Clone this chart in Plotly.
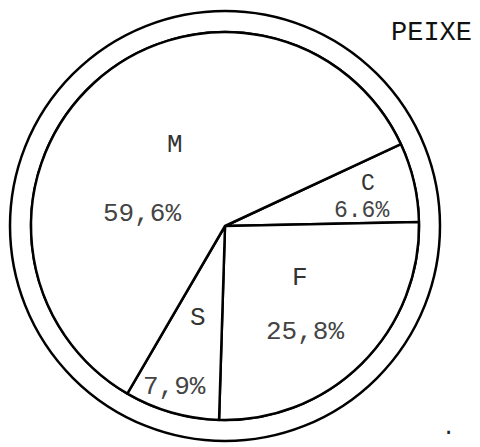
import plotly.graph_objects as go

# Data
categories = ["C", "F", "S", "M"]
values = [6.6, 25.8, 7.9, 59.6]
pct_labels = ["6.6%", "25,8%", "7,9%", "59,6%"]
title_text = "PEIXE"

W, H = 480, 447
OFF = 8                      # page body margin offset of the plot div
cx, cy = 225, 226            # pixel centre in the screenshot (from top)
r_out, r_in = 215, 194

def px(x):
    return (x - OFF) / W

def py(y):
    return 1 - (y - OFF) / H

def dom(r):
    return dict(x=[px(cx - r), px(cx + r)], y=[py(cy + r), py(cy - r)])

fig = go.Figure()
# outer double ring
fig.add_trace(go.Pie(
    values=[1], labels=["ring"], hole=r_in / r_out, sort=False,
    marker=dict(colors=["white"], line=dict(color="black", width=2.5)),
    textinfo="none", hoverinfo="skip", showlegend=False, domain=dom(r_out),
))
# inner pie
fig.add_trace(go.Pie(
    values=values, labels=categories, sort=False, direction="clockwise",
    rotation=65,
    marker=dict(colors=["white"] * len(values), line=dict(color="black", width=2.5)),
    textinfo="none", textposition="none", hoverinfo="skip", showlegend=False,
    domain=dom(r_in),
))

font_face = "Liberation Mono, Courier New, monospace"
letter_pos = {"C": (368, 184), "F": (300, 278), "S": (198, 318), "M": (175, 145)}
pct_pos = {"C": (361, 211), "F": (305, 332), "S": (174, 387), "M": (142, 214)}

def add_text(x, y, text, size, color):
    return dict(x=px(x), y=py(y), xref="paper", yref="paper", text=text,
                xanchor="center", yanchor="middle", showarrow=False,
                font=dict(family=font_face, size=size, color=color))

ann = []
for cat, pct in zip(categories, pct_labels):
    s = 23 if cat == "C" else 26
    ann.append(add_text(*letter_pos[cat], cat, s, "#333"))
    ann.append(add_text(*pct_pos[cat], pct, s, "#444"))
ann.append(add_text(431, 33, title_text, 27, "#111"))
ann.append(add_text(448, 428, ".", 22, "#222"))

fig.update_layout(
    width=W, height=H, margin=dict(l=0, r=0, t=0, b=0),
    paper_bgcolor="white", plot_bgcolor="white", annotations=ann,
)
fig.write_html("out.html")
